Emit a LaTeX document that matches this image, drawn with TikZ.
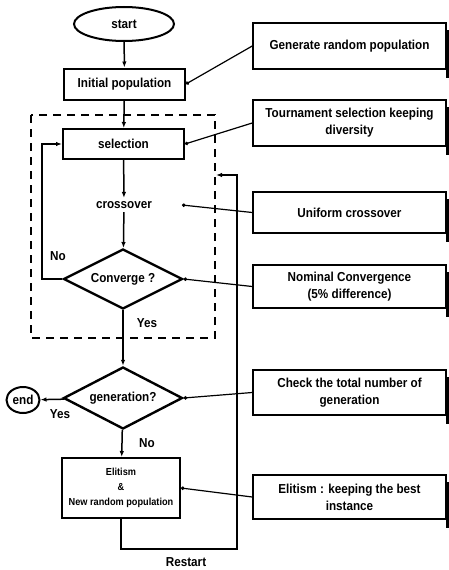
\documentclass[tikz,border=0pt]{standalone}
\usepackage{fontspec}
\newfontfamily\gafont{Liberation Sans}[FakeStretch=0.9]
\usepackage{tikz}
\usetikzlibrary{positioning,shapes.geometric,arrows.meta}

\tikzset{
  every node/.style={font=\gafont\bfseries\fontsize{13}{17}\selectfont},
  flowbox/.style={draw,line width=2pt,inner sep=0pt,align=center},
  notebox/.style={draw,line width=1.5pt,inner sep=0pt,minimum width=193pt,align=center},
  decide/.style={draw,diamond,aspect=2,line width=2.4pt,inner sep=0pt,minimum width=119pt},
  flow/.style={line width=1.5pt,-{Latex[length=6pt,width=4.5pt]}},
  annot/.style={line width=1.2pt,{Circle[length=3.5pt]}-},
  rimedge/.style={line width=2.8pt},
}

\begin{document}
\begin{tikzpicture}[x=1pt,y=-1pt]
\useasboundingbox (0,0) rectangle (449,570);

% main column
\node[draw,ellipse,line width=2pt,inner sep=0pt,minimum width=100pt,minimum height=34pt] (start) at (124,24) {start};
\node[flowbox,minimum width=121pt,minimum height=31pt] (init) at (124.5,84) {Initial population};
\node[flowbox,minimum width=121pt,minimum height=30pt] (sel) at (123.5,144) {selection};
\node (cross) at (124,205) {crossover};
\node[decide,minimum height=60pt] (conv) at (123,279) {Converge ?};
\node[decide,minimum height=62pt] (gen) at (123,398) {generation?};
\node[draw,ellipse,line width=2pt,inner sep=0pt,minimum width=33pt,minimum height=26pt] (endc) at (23,400) {end};
\node[flowbox,minimum width=118pt,minimum height=60pt,font=\gafont\bfseries\fontsize{10.2}{15}\selectfont] (elit) at (121,488) {Elitism\\\&\\New random population};

% dashed loop region
\draw[line width=2pt,dash pattern=on 8pt off 6pt] (31,115) rectangle (215,338);

% notes on the right
\node[notebox,minimum height=46pt] (genr) at (349.5,46) {Generate random population};
\node[notebox,minimum height=46pt] (tour) at (349.5,123) {Tournament selection keeping\\diversity};
\node[notebox,minimum height=41pt] (unif) at (349.5,212.5) {Uniform crossover};
\node[notebox,minimum height=43pt] (nomc) at (349.5,286.5) {Nominal Convergence\\(5\% difference)};
\node[notebox,minimum height=45pt] (check) at (349.5,392.5) {Check the total number of\\generation};
\node[notebox,minimum height=44pt] (elitr) at (349.5,497) {Elitism : keeping the best\\instance};
\foreach \n in {genr,tour,unif,nomc,check,elitr}
  \draw[rimedge] ([xshift=1pt,yshift=-8pt]\n.north east) -- ([xshift=1pt,yshift=-8pt]\n.south east);

% labels
\node (no1) at (58,256) {No};
\node (yes1) at (147,323) {Yes};
\node (yes2) at (60,414) {Yes};
\node (no2) at (147,443) {No};
\node (restart) at (186,562) {Restart};

% helper points
\coordinate (crossdot) at (182,205);
\coordinate (noturn) at (42,279);
\coordinate (loopbot) at (237,549);
\coordinate (looptop) at (237,175);
\coordinate (loopin) at (216,175);

% flow
\draw[flow] (start) -- (init);
\draw[flow] (init) -- (sel);
\draw[flow] (sel) -- (cross);
\draw[flow] (cross) -- (conv);
\draw[flow] (conv.west) -- (noturn) |- (sel.west);
\draw[flow] (conv) -- (gen);
\draw[flow] (gen) -- (endc);
\draw[flow] (gen) -- (elit);
\draw[flow] (elit.south) |- (loopbot) -- (looptop) -- (loopin);

% notes
\draw[annot] (init.east) -- (genr.west);
\draw[annot] (sel.east) -- (tour.west);
\draw[annot] (crossdot) -- (unif.west);
\draw[annot] (conv.east) -- (nomc.west);
\draw[annot] (gen.east) -- (check.west);
\draw[annot] (elit.east) -- (elitr.west);
\end{tikzpicture}
\end{document}
